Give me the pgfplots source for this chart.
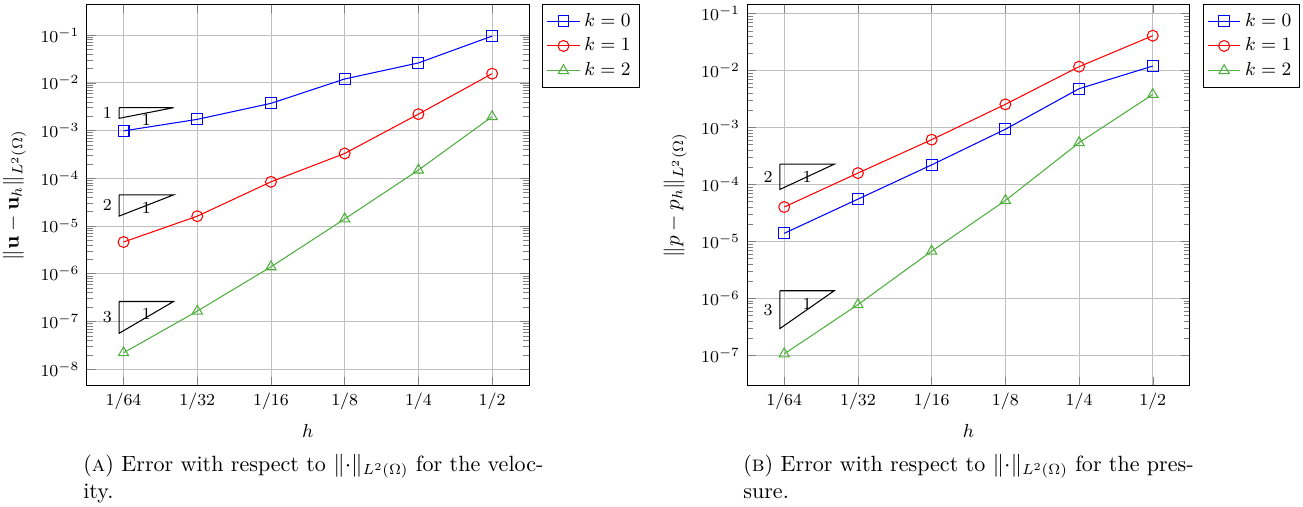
\documentclass[border=0pt]{standalone}
\usepackage{pgfplots}
\pgfplotsset{compat=1.18}

\definecolor{kgreen}{RGB}{77,175,60}

\tikzset{
  kzero/.style={blue, line width=0.5pt, mark=square, mark size=2.6pt},
  kone/.style={red, line width=0.5pt, mark=o, mark size=2.6pt},
  ktwo/.style={kgreen, line width=0.5pt, mark=triangle, mark size=2.8pt},
  slopetri/.style={black, line width=0.5pt},
  rate/.style={font=\footnotesize},
}

\pgfplotsset{
  legend image code/.code={%
    \draw[mark repeat=2,mark phase=2,#1]
      plot coordinates {(0cm,0cm) (0.27cm,0cm) (0.54cm,0cm)};},
}

\begin{document}
\begin{tikzpicture}
\path[use as bounding box] (0,0) rectangle (620.5pt,-241pt);

% velocity
\begin{axis}[at={(41.29pt,-2.05pt)}, anchor=north west,
    width=210.6pt, height=181.6pt, scale only axis,
    xmode=log, ymode=log, log basis x=2,
    xmin=0.011049, xmax=0.707107,
    xtick={0.015625,0.03125,0.0625,0.125,0.25,0.5},
    xticklabels={$1/64$,$1/32$,$1/16$,$1/8$,$1/4$,$1/2$},
    xlabel={$h$},
    grid=major,
    legend pos=outer north east,
    legend cell align=left,
    font=\footnotesize,
    legend style={font=\small, inner sep=2pt},
    xlabel style={font=\small},
    ylabel style={font=\normalsize},
    ymin=4.5e-9, ymax=0.44,
    ytick={1e-8,1e-7,1e-6,1e-5,1e-4,1e-3,1e-2,1e-1},
    ylabel={$\|\mathbf{u}-\mathbf{u}_h\|_{L^2(\Omega)}$}]
  \addplot[kzero] coordinates {
    (0.015625,9.8e-4) (0.03125,1.71e-3) (0.0625,3.7e-3)
    (0.125,1.2e-2) (0.25,2.6e-2) (0.5,9.5e-2)};
  \addplot[kone] coordinates {
    (0.015625,4.6e-6) (0.03125,1.6e-5) (0.0625,8.4e-5)
    (0.125,3.3e-4) (0.25,2.2e-3) (0.5,1.55e-2)};
  \addplot[ktwo] coordinates {
    (0.015625,2.2e-8) (0.03125,1.64e-7) (0.0625,1.39e-6)
    (0.125,1.4e-5) (0.25,1.48e-4) (0.5,1.95e-3)};
  \legend{$k=0$,$k=1$,$k=2$}
  % slope triangles
  \addplot[slopetri, forget plot] coordinates {(0.015,3.0e-3) (0.025,3.0e-3) (0.015,1.8e-3) (0.015,3.0e-3)};
  \addplot[slopetri, forget plot] coordinates {(0.015,4.47e-5) (0.025,4.47e-5) (0.015,1.61e-5) (0.015,4.47e-5)};
  \addplot[slopetri, forget plot] coordinates {(0.015,2.61e-7) (0.025,2.61e-7) (0.015,5.64e-8) (0.015,2.61e-7)};
  \node[rate, anchor=east] at (axis cs:0.015,2.32e-3) {$1$};
  \node[rate, anchor=north] at (axis cs:0.01936,3.0e-3) {$1$};
  \node[rate, anchor=east] at (axis cs:0.015,2.68e-5) {$2$};
  \node[rate, anchor=north] at (axis cs:0.01936,4.47e-5) {$1$};
  \node[rate, anchor=east] at (axis cs:0.015,1.213e-7) {$3$};
  \node[rate, anchor=north] at (axis cs:0.01936,2.61e-7) {$1$};
\end{axis}

% pressure
\begin{axis}[at={(355.9pt,-2.05pt)}, anchor=north west,
    width=210.6pt, height=181.6pt, scale only axis,
    xmode=log, ymode=log, log basis x=2,
    xmin=0.011049, xmax=0.707107,
    xtick={0.015625,0.03125,0.0625,0.125,0.25,0.5},
    xticklabels={$1/64$,$1/32$,$1/16$,$1/8$,$1/4$,$1/2$},
    xlabel={$h$},
    grid=major,
    legend pos=outer north east,
    legend cell align=left,
    font=\footnotesize,
    legend style={font=\small, inner sep=2pt},
    xlabel style={font=\small},
    ylabel style={font=\normalsize},
    ymin=2.9e-8, ymax=0.146,
    ytick={1e-7,1e-6,1e-5,1e-4,1e-3,1e-2,1e-1},
    ylabel={$\|p-p_h\|_{L^2(\Omega)}$}]
  \addplot[kzero] coordinates {
    (0.015625,1.38e-5) (0.03125,5.5e-5) (0.0625,2.2e-4)
    (0.125,9.3e-4) (0.25,4.8e-3) (0.5,1.2e-2)};
  \addplot[kone] coordinates {
    (0.015625,4.0e-5) (0.03125,1.58e-4) (0.0625,6.1e-4)
    (0.125,2.55e-3) (0.25,1.17e-2) (0.5,4.1e-2)};
  \addplot[ktwo] coordinates {
    (0.015625,1.05e-7) (0.03125,7.7e-7) (0.0625,6.7e-6)
    (0.125,5.2e-5) (0.25,5.4e-4) (0.5,3.8e-3)};
  \legend{$k=0$,$k=1$,$k=2$}
  \addplot[slopetri, forget plot] coordinates {(0.015,2.26e-4) (0.025,2.26e-4) (0.015,8.14e-5) (0.015,2.26e-4)};
  \addplot[slopetri, forget plot] coordinates {(0.015,1.35e-6) (0.025,1.35e-6) (0.015,2.92e-7) (0.015,1.35e-6)};
  \node[rate, anchor=east] at (axis cs:0.015,1.356e-4) {$2$};
  \node[rate, anchor=north] at (axis cs:0.01936,2.26e-4) {$1$};
  \node[rate, anchor=east] at (axis cs:0.015,6.27e-7) {$3$};
  \node[rate, anchor=north] at (axis cs:0.01936,1.35e-6) {$1$};
\end{axis}

% captions
\begin{scope}[every node/.style={anchor=base west, inner sep=0pt,
    font=\fontsize{10.5}{12.6}\selectfont}]
\node at (39.5pt,-224.3pt)
  {(\textsc{a}) Error with respect to $\|{\cdot}\|_{L^2(\Omega)}$ for the veloc-};
\node at (39.5pt,-237.6pt) {ity.};
\node at (353.8pt,-224.3pt)
  {(\textsc{b}) Error with respect to $\|{\cdot}\|_{L^2(\Omega)}$ for the pres-};
\node at (353.8pt,-237.6pt) {sure.};
\end{scope}
\end{tikzpicture}
\end{document}
